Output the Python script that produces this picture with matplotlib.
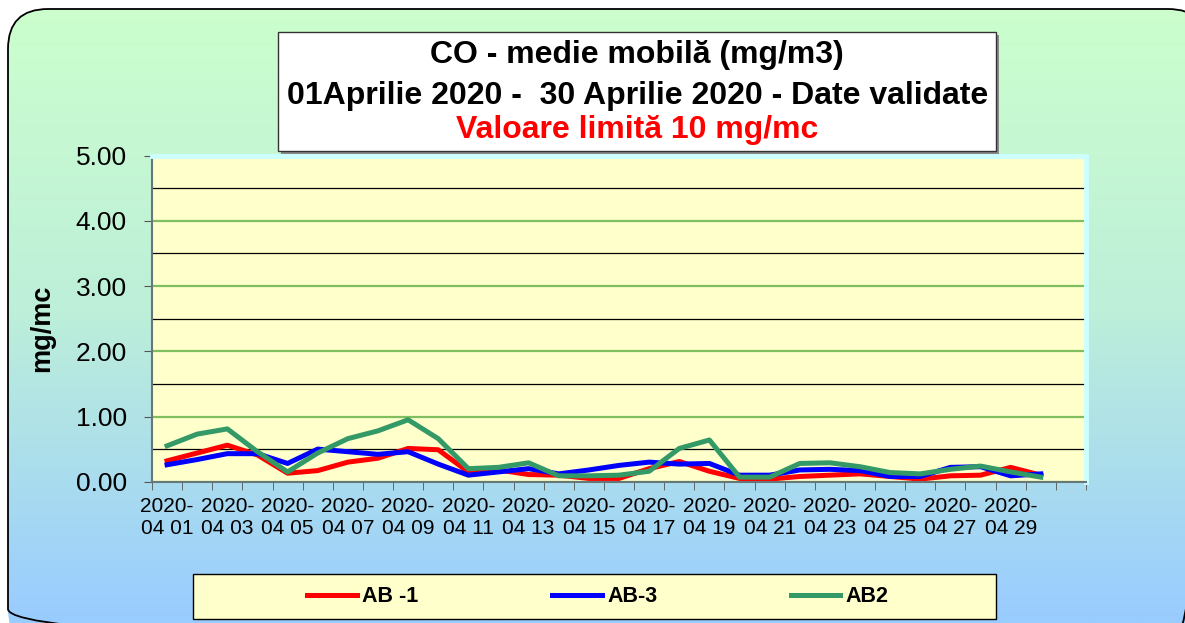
import numpy as np
import matplotlib
matplotlib.use("Agg")
import matplotlib.pyplot as plt
from matplotlib.colors import LinearSegmentedColormap
from matplotlib.patches import FancyBboxPatch, Rectangle

plt.rcParams['font.family'] = ['Liberation Sans', 'DejaVu Sans']

# zile (aprilie 2020), etichete doar pe zilele impare
days = ["2020-\n04 %02d" % d for d in range(1, 31)]
ab1 = [0.32, 0.44, 0.56, 0.41, 0.13, 0.17, 0.30, 0.36, 0.51, 0.49,
       0.15, 0.18, 0.11, 0.10, 0.05, 0.05, 0.20, 0.31, 0.16, 0.05,
       0.04, 0.08, 0.10, 0.12, 0.08, 0.04, 0.09, 0.10, 0.22, 0.10]
ab3 = [0.26, 0.34, 0.43, 0.43, 0.28, 0.50, 0.46, 0.42, 0.46, 0.27,
       0.10, 0.15, 0.20, 0.12, 0.18, 0.25, 0.30, 0.27, 0.28, 0.10,
       0.10, 0.18, 0.19, 0.17, 0.08, 0.08, 0.22, 0.23, 0.09, 0.12]
ab2 = [0.55, 0.73, 0.81, 0.46, 0.15, 0.44, 0.66, 0.78, 0.95, 0.66,
       0.20, 0.22, 0.29, 0.09, 0.09, 0.10, 0.16, 0.51, 0.64, 0.07,
       0.07, 0.28, 0.29, 0.23, 0.14, 0.12, 0.19, 0.24, 0.15, 0.07]
n_cat = 31  # o categorie goala la final

W, H = 1185, 623
fig = plt.figure(figsize=(W / 100, H / 100), dpi=100)

# fundal cu gradient, chenar rotunjit
bg = fig.add_axes([0, 0, 1, 1], zorder=-10)
bg.set_axis_off()
bg.set_xlim(0, W)
bg.set_ylim(H, 0)
cmap = LinearSegmentedColormap.from_list('bg', ['#CCFFCC', '#BDEFDA', '#99CCFF'])
im = bg.imshow(np.linspace(0, 1, 256)[:, None], cmap=cmap,
               extent=(0, W, H, 0), aspect='auto')
frame = FancyBboxPatch((8, 9), 1200, 640, boxstyle='round,pad=0,rounding_size=40',
                       fc='none', ec='black', lw=1.3)
bg.add_patch(frame)
im.set_clip_path(frame)

# caseta titlu
bg.add_patch(Rectangle((281, 35), 718, 119, fc='#888888', ec='none'))
bg.add_patch(Rectangle((278, 32), 718, 119, fc='white', ec='#333333', lw=1))
bg.text(637, 63, "CO - medie mobilă (mg/m3)", ha='center', va='baseline',
        fontsize=23, fontweight='bold')
bg.text(638, 104, "01Aprilie 2020 -  30 Aprilie 2020 - Date validate",
        ha='center', va='baseline', fontsize=23, fontweight='bold')
bg.text(637, 138, "Valoare limită 10 mg/mc", ha='center', va='baseline',
        fontsize=23, fontweight='bold', color='#FF0000')

bg.text(42, 328, "mg/mc", rotation=90, ha='center', va='center',
        fontsize=19.5, fontweight='bold')

# caseta legenda
bg.add_patch(Rectangle((193, 574), 803, 45, fc='#FFFFCC', ec='black', lw=1))

ax = fig.add_axes([152 / W, (H - 481.7) / H, 934 / W, 326 / H])
ax.set_facecolor('#FFFFCC')
x = np.arange(len(ab1))
ax.plot(x, ab1, color='#FF0000', lw=3.6, label='AB -1')
ax.plot(x, ab3, color='#0000FF', lw=3.6, label='AB-3')
ax.plot(x, ab2, color='#339966', lw=3.6, label='AB2')

ax.set_xlim(-0.5, n_cat - 0.5)
ax.set_ylim(0, 5)
ax.set_xticks(x[::2])
ax.set_xticklabels(days[::2], fontsize=15)
ax.set_xticks(np.arange(-0.5, n_cat, 1), minor=True)
ax.tick_params(axis='x', which='major', length=0, pad=11)
ax.tick_params(axis='x', which='minor', length=6, direction='out', color='#555555')

ax.set_yticks(np.arange(0, 5.01, 1))
ax.set_yticklabels(["%.2f" % v for v in np.arange(0, 5.01, 1)], fontsize=19)
ax.set_yticks(np.arange(0.5, 5, 1), minor=True)
ax.tick_params(axis='y', which='major', length=6, direction='out', color='#555555', pad=12)
ax.tick_params(axis='y', which='minor', length=0)
ax.grid(which='major', axis='y', color='#80BF60', lw=1.6)
ax.grid(which='minor', axis='y', color='black', lw=0.9)

ax.spines['left'].set_color('#667777')
ax.spines['left'].set_linewidth(1.5)
ax.spines['bottom'].set_color('#667777')
ax.spines['bottom'].set_linewidth(1.5)
ax.spines['top'].set_color('#CCFFFF')
ax.spines['top'].set_linewidth(3.5)
ax.spines['right'].set_color('#CCFFFF')
ax.spines['right'].set_linewidth(3.5)

handles, labels = ax.get_legend_handles_labels()
fig.legend(handles, labels, loc='center', bbox_to_anchor=(598 / W, 1 - 597 / H),
           ncol=3, frameon=False, handlelength=2.3, handletextpad=0.25,
           columnspacing=6.2, prop={'size': 15.5, 'weight': 'bold'})

fig.savefig("out.png", dpi=100)
